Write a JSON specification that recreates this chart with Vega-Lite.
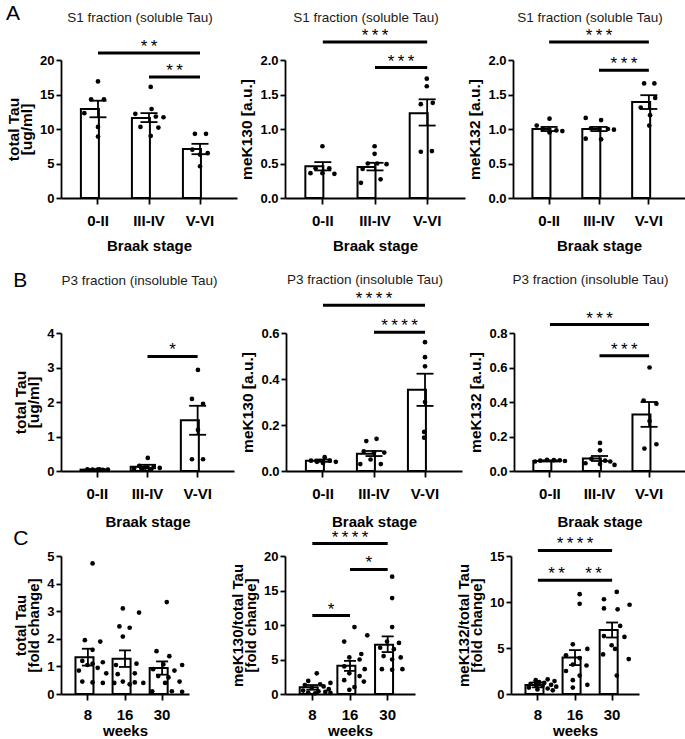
{
  "$schema": "https://vega.github.io/schema/vega-lite/v6.json",
  "background": "white",
  "padding": {"left": 6, "top": 2, "right": 2, "bottom": 0},
  "config": {
    "font": "Liberation Sans",
    "view": {"stroke": null},
    "axis": {"grid": false, "domainColor": "black", "domainWidth": 1.8, "tickColor": "black", "tickWidth": 1.8, "labelColor": "black", "titleColor": "black", "labelFont": "Liberation Sans", "titleFont": "Liberation Sans", "labelFontWeight": "bold", "titleFontWeight": "bold"},
    "axisY": {"labelFontSize": 13, "titleFontSize": 15.5, "tickSize": 5, "labelPadding": 2, "titlePadding": 5, "titleLineHeight": 13.5},
    "axisX": {"labelFontSize": 15, "titleFontSize": 15, "tickSize": 6, "labelAngle": 0}
  },
  "datasets": {
    "bars": [
      {"panel": "A1", "group": "0-II", "mean": 12.9, "lo": 11.7, "hi": 14.1},
      {"panel": "A1", "group": "III-IV", "mean": 11.6, "lo": 11.0, "hi": 12.3},
      {"panel": "A1", "group": "V-VI", "mean": 7.1, "lo": 6.35, "hi": 7.85},
      {"panel": "A2", "group": "0-II", "mean": 0.46, "lo": 0.40, "hi": 0.52},
      {"panel": "A2", "group": "III-IV", "mean": 0.45, "lo": 0.40, "hi": 0.51},
      {"panel": "A2", "group": "V-VI", "mean": 1.23, "lo": 1.05, "hi": 1.43},
      {"panel": "A3", "group": "0-II", "mean": 1.0, "lo": 0.97, "hi": 1.03},
      {"panel": "A3", "group": "III-IV", "mean": 1.0, "lo": 0.97, "hi": 1.03},
      {"panel": "A3", "group": "V-VI", "mean": 1.39, "lo": 1.29, "hi": 1.49},
      {"panel": "B1", "group": "0-II", "mean": 0.04, "lo": 0.03, "hi": 0.05},
      {"panel": "B1", "group": "III-IV", "mean": 0.12, "lo": 0.08, "hi": 0.18},
      {"panel": "B1", "group": "V-VI", "mean": 1.47, "lo": 1.05, "hi": 1.89},
      {"panel": "B2", "group": "0-II", "mean": 0.045, "lo": 0.04, "hi": 0.05},
      {"panel": "B2", "group": "III-IV", "mean": 0.075, "lo": 0.065, "hi": 0.087},
      {"panel": "B2", "group": "V-VI", "mean": 0.353, "lo": 0.283, "hi": 0.423},
      {"panel": "B3", "group": "0-II", "mean": 0.058, "lo": 0.055, "hi": 0.062},
      {"panel": "B3", "group": "III-IV", "mean": 0.072, "lo": 0.058, "hi": 0.087},
      {"panel": "B3", "group": "V-VI", "mean": 0.328, "lo": 0.256, "hi": 0.40},
      {"panel": "C1", "group": "8", "mean": 1.33, "lo": 1.03, "hi": 1.64},
      {"panel": "C1", "group": "16", "mean": 1.28, "lo": 0.98, "hi": 1.58},
      {"panel": "C1", "group": "30", "mean": 0.94, "lo": 0.70, "hi": 1.18},
      {"panel": "C2", "group": "8", "mean": 0.97, "lo": 0.62, "hi": 1.3},
      {"panel": "C2", "group": "16", "mean": 4.08, "lo": 3.35, "hi": 4.8},
      {"panel": "C2", "group": "30", "mean": 7.14, "lo": 6.07, "hi": 8.35},
      {"panel": "C3", "group": "8", "mean": 0.98, "lo": 0.72, "hi": 1.26},
      {"panel": "C3", "group": "16", "mean": 3.98, "lo": 3.14, "hi": 4.77},
      {"panel": "C3", "group": "30", "mean": 6.97, "lo": 6.14, "hi": 7.77}
    ],
    "sig": [
      {"panel": "A1", "from": "0-II", "to": "V-VI", "mid": "III-IV", "level": 21.0, "label": "*\u2009*", "span": 2},
      {"panel": "A1", "from": "III-IV", "to": "V-VI", "mid": null, "level": 17.55, "label": "*\u2009*", "span": 1},
      {"panel": "A2", "from": "0-II", "to": "V-VI", "mid": "III-IV", "level": 2.26, "label": "*\u2009*\u2009*", "span": 2},
      {"panel": "A2", "from": "III-IV", "to": "V-VI", "mid": null, "level": 1.89, "label": "*\u2009*\u2009*", "span": 1},
      {"panel": "A3", "from": "0-II", "to": "V-VI", "mid": "III-IV", "level": 2.26, "label": "*\u2009*\u2009*", "span": 2},
      {"panel": "A3", "from": "III-IV", "to": "V-VI", "mid": null, "level": 1.85, "label": "*\u2009*\u2009*", "span": 1},
      {"panel": "B1", "from": "III-IV", "to": "V-VI", "mid": null, "level": 3.32, "label": "*", "span": 1},
      {"panel": "B2", "from": "0-II", "to": "V-VI", "mid": "III-IV", "level": 0.721, "label": "*\u2009*\u2009*\u2009*", "span": 2},
      {"panel": "B2", "from": "III-IV", "to": "V-VI", "mid": null, "level": 0.603, "label": "*\u2009*\u2009*\u2009*", "span": 1},
      {"panel": "B3", "from": "0-II", "to": "V-VI", "mid": "III-IV", "level": 0.849, "label": "*\u2009*\u2009*", "span": 2},
      {"panel": "B3", "from": "III-IV", "to": "V-VI", "mid": null, "level": 0.668, "label": "*\u2009*\u2009*", "span": 1},
      {"panel": "C2", "from": "8", "to": "30", "mid": "16", "level": 21.8, "label": "*\u2009*\u2009*\u2009*", "span": 2},
      {"panel": "C2", "from": "16", "to": "30", "mid": null, "level": 18.05, "label": "*", "span": 1},
      {"panel": "C2", "from": "8", "to": "16", "mid": null, "level": 11.36, "label": "*", "span": 1},
      {"panel": "C3", "from": "8", "to": "30", "mid": "16", "level": 15.6, "label": "*\u2009*\u2009*\u2009*", "span": 2},
      {"panel": "C3", "from": "8", "to": "16", "mid": null, "level": 12.36, "label": "*\u2009*", "span": 1},
      {"panel": "C3", "from": "16", "to": "30", "mid": null, "level": 12.36, "label": "*\u2009*", "span": 1}
    ],
    "dots": [
      {"panel": "A1", "group": "0-II", "value": 16.9, "jitter": 0},
      {"panel": "A1", "group": "0-II", "value": 14.3, "jitter": -0.4},
      {"panel": "A1", "group": "0-II", "value": 14.3, "jitter": 0.35},
      {"panel": "A1", "group": "0-II", "value": 12.3, "jitter": -0.8},
      {"panel": "A1", "group": "0-II", "value": 10.3, "jitter": 0},
      {"panel": "A1", "group": "0-II", "value": 8.9, "jitter": 0},
      {"panel": "A1", "group": "III-IV", "value": 16.1, "jitter": 0.1},
      {"panel": "A1", "group": "III-IV", "value": 12.9, "jitter": 0.15},
      {"panel": "A1", "group": "III-IV", "value": 12.2, "jitter": -0.8},
      {"panel": "A1", "group": "III-IV", "value": 11.8, "jitter": 0.4},
      {"panel": "A1", "group": "III-IV", "value": 11.7, "jitter": 0.85},
      {"panel": "A1", "group": "III-IV", "value": 10.3, "jitter": -0.5},
      {"panel": "A1", "group": "III-IV", "value": 10.2, "jitter": 0.55},
      {"panel": "A1", "group": "III-IV", "value": 9.0, "jitter": 0.1},
      {"panel": "A1", "group": "V-VI", "value": 9.3, "jitter": -0.3},
      {"panel": "A1", "group": "V-VI", "value": 9.3, "jitter": 0.35},
      {"panel": "A1", "group": "V-VI", "value": 7.0, "jitter": -0.45},
      {"panel": "A1", "group": "V-VI", "value": 6.5, "jitter": 0.45},
      {"panel": "A1", "group": "V-VI", "value": 6.3, "jitter": 0},
      {"panel": "A1", "group": "V-VI", "value": 4.6, "jitter": 0},
      {"panel": "A2", "group": "0-II", "value": 0.75, "jitter": 0},
      {"panel": "A2", "group": "0-II", "value": 0.43, "jitter": -0.4},
      {"panel": "A2", "group": "0-II", "value": 0.43, "jitter": 0.4},
      {"panel": "A2", "group": "0-II", "value": 0.36, "jitter": -0.7},
      {"panel": "A2", "group": "0-II", "value": 0.36, "jitter": 0},
      {"panel": "A2", "group": "0-II", "value": 0.35, "jitter": 0.7},
      {"panel": "A2", "group": "III-IV", "value": 0.75, "jitter": 0},
      {"panel": "A2", "group": "III-IV", "value": 0.64, "jitter": 0},
      {"panel": "A2", "group": "III-IV", "value": 0.50, "jitter": -0.4},
      {"panel": "A2", "group": "III-IV", "value": 0.50, "jitter": 0.15},
      {"panel": "A2", "group": "III-IV", "value": 0.49, "jitter": 0.7},
      {"panel": "A2", "group": "III-IV", "value": 0.42, "jitter": -0.7},
      {"panel": "A2", "group": "III-IV", "value": 0.27, "jitter": 0.35},
      {"panel": "A2", "group": "III-IV", "value": 0.22, "jitter": -0.8},
      {"panel": "A2", "group": "V-VI", "value": 1.73, "jitter": 0},
      {"panel": "A2", "group": "V-VI", "value": 1.62, "jitter": 0},
      {"panel": "A2", "group": "V-VI", "value": 1.36, "jitter": -0.35},
      {"panel": "A2", "group": "V-VI", "value": 1.38, "jitter": 0.35},
      {"panel": "A2", "group": "V-VI", "value": 0.67, "jitter": -0.35},
      {"panel": "A2", "group": "V-VI", "value": 0.68, "jitter": 0.3},
      {"panel": "A3", "group": "0-II", "value": 1.15, "jitter": 0},
      {"panel": "A3", "group": "0-II", "value": 1.05, "jitter": -0.75},
      {"panel": "A3", "group": "0-II", "value": 1.0, "jitter": -0.4},
      {"panel": "A3", "group": "0-II", "value": 0.98, "jitter": 0.4},
      {"panel": "A3", "group": "0-II", "value": 0.97, "jitter": 0.75},
      {"panel": "A3", "group": "0-II", "value": 0.95, "jitter": 0},
      {"panel": "A3", "group": "III-IV", "value": 1.16, "jitter": -0.8},
      {"panel": "A3", "group": "III-IV", "value": 1.13, "jitter": 0.1},
      {"panel": "A3", "group": "III-IV", "value": 1.01, "jitter": -0.5},
      {"panel": "A3", "group": "III-IV", "value": 1.0, "jitter": 0},
      {"panel": "A3", "group": "III-IV", "value": 1.0, "jitter": 0.5},
      {"panel": "A3", "group": "III-IV", "value": 0.99, "jitter": 0.85},
      {"panel": "A3", "group": "III-IV", "value": 0.86, "jitter": -0.8},
      {"panel": "A3", "group": "III-IV", "value": 0.85, "jitter": 0.1},
      {"panel": "A3", "group": "V-VI", "value": 1.66, "jitter": -0.3},
      {"panel": "A3", "group": "V-VI", "value": 1.66, "jitter": 0.3},
      {"panel": "A3", "group": "V-VI", "value": 1.45, "jitter": 0.35},
      {"panel": "A3", "group": "V-VI", "value": 1.31, "jitter": -0.5},
      {"panel": "A3", "group": "V-VI", "value": 1.2, "jitter": 0.05},
      {"panel": "A3", "group": "V-VI", "value": 1.05, "jitter": 0},
      {"panel": "B1", "group": "0-II", "value": 0.05, "jitter": -0.6},
      {"panel": "B1", "group": "0-II", "value": 0.04, "jitter": -0.3},
      {"panel": "B1", "group": "0-II", "value": 0.04, "jitter": 0},
      {"panel": "B1", "group": "0-II", "value": 0.03, "jitter": 0.3},
      {"panel": "B1", "group": "0-II", "value": 0.04, "jitter": 0.6},
      {"panel": "B1", "group": "0-II", "value": 0.05, "jitter": 0.1},
      {"panel": "B1", "group": "III-IV", "value": 0.38, "jitter": 0},
      {"panel": "B1", "group": "III-IV", "value": 0.15, "jitter": -0.5},
      {"panel": "B1", "group": "III-IV", "value": 0.13, "jitter": 0.35},
      {"panel": "B1", "group": "III-IV", "value": 0.10, "jitter": -0.15},
      {"panel": "B1", "group": "III-IV", "value": 0.09, "jitter": 0.7},
      {"panel": "B1", "group": "III-IV", "value": 0.07, "jitter": -0.8},
      {"panel": "B1", "group": "III-IV", "value": 0.05, "jitter": 0.2},
      {"panel": "B1", "group": "III-IV", "value": 0.04, "jitter": -0.35},
      {"panel": "B1", "group": "V-VI", "value": 2.93, "jitter": 0},
      {"panel": "B1", "group": "V-VI", "value": 2.09, "jitter": -0.35},
      {"panel": "B1", "group": "V-VI", "value": 1.95, "jitter": 0.3},
      {"panel": "B1", "group": "V-VI", "value": 1.19, "jitter": 0},
      {"panel": "B1", "group": "V-VI", "value": 0.34, "jitter": -0.35},
      {"panel": "B1", "group": "V-VI", "value": 0.34, "jitter": 0.3},
      {"panel": "B2", "group": "0-II", "value": 0.06, "jitter": 0.1},
      {"panel": "B2", "group": "0-II", "value": 0.045, "jitter": -0.7},
      {"panel": "B2", "group": "0-II", "value": 0.04, "jitter": -0.35},
      {"panel": "B2", "group": "0-II", "value": 0.045, "jitter": 0.4},
      {"panel": "B2", "group": "0-II", "value": 0.04, "jitter": 0.75},
      {"panel": "B2", "group": "0-II", "value": 0.035, "jitter": 0},
      {"panel": "B2", "group": "III-IV", "value": 0.14, "jitter": 0.15},
      {"panel": "B2", "group": "III-IV", "value": 0.13, "jitter": -0.45},
      {"panel": "B2", "group": "III-IV", "value": 0.085, "jitter": -0.6},
      {"panel": "B2", "group": "III-IV", "value": 0.08, "jitter": 0},
      {"panel": "B2", "group": "III-IV", "value": 0.08, "jitter": 0.6},
      {"panel": "B2", "group": "III-IV", "value": 0.05, "jitter": -0.2},
      {"panel": "B2", "group": "III-IV", "value": 0.03, "jitter": -0.8},
      {"panel": "B2", "group": "III-IV", "value": 0.03, "jitter": 0.4},
      {"panel": "B2", "group": "V-VI", "value": 0.56, "jitter": 0},
      {"panel": "B2", "group": "V-VI", "value": 0.495, "jitter": 0},
      {"panel": "B2", "group": "V-VI", "value": 0.455, "jitter": 0},
      {"panel": "B2", "group": "V-VI", "value": 0.30, "jitter": 0},
      {"panel": "B2", "group": "V-VI", "value": 0.17, "jitter": -0.05},
      {"panel": "B2", "group": "V-VI", "value": 0.145, "jitter": -0.05},
      {"panel": "B3", "group": "0-II", "value": 0.065, "jitter": -0.2},
      {"panel": "B3", "group": "0-II", "value": 0.063, "jitter": 0.2},
      {"panel": "B3", "group": "0-II", "value": 0.062, "jitter": 0.55},
      {"panel": "B3", "group": "0-II", "value": 0.06, "jitter": -0.6},
      {"panel": "B3", "group": "0-II", "value": 0.058, "jitter": 0.85},
      {"panel": "B3", "group": "0-II", "value": 0.055, "jitter": -0.9},
      {"panel": "B3", "group": "III-IV", "value": 0.163, "jitter": 0},
      {"panel": "B3", "group": "III-IV", "value": 0.12, "jitter": 0},
      {"panel": "B3", "group": "III-IV", "value": 0.07, "jitter": -0.5},
      {"panel": "B3", "group": "III-IV", "value": 0.06, "jitter": 0.3},
      {"panel": "B3", "group": "III-IV", "value": 0.055, "jitter": 0.6},
      {"panel": "B3", "group": "III-IV", "value": 0.045, "jitter": -0.85},
      {"panel": "B3", "group": "III-IV", "value": 0.04, "jitter": 0},
      {"panel": "B3", "group": "III-IV", "value": 0.035, "jitter": 0.85},
      {"panel": "B3", "group": "V-VI", "value": 0.6, "jitter": 0},
      {"panel": "B3", "group": "V-VI", "value": 0.408, "jitter": -0.35},
      {"panel": "B3", "group": "V-VI", "value": 0.39, "jitter": 0.4},
      {"panel": "B3", "group": "V-VI", "value": 0.29, "jitter": 0},
      {"panel": "B3", "group": "V-VI", "value": 0.13, "jitter": -0.3},
      {"panel": "B3", "group": "V-VI", "value": 0.155, "jitter": 0.4},
      {"panel": "C1", "group": "8", "value": 4.73, "jitter": 0},
      {"panel": "C1", "group": "8", "value": 1.95, "jitter": -0.45},
      {"panel": "C1", "group": "8", "value": 1.9, "jitter": 0.45},
      {"panel": "C1", "group": "8", "value": 1.6, "jitter": 0},
      {"panel": "C1", "group": "8", "value": 1.2, "jitter": -0.6},
      {"panel": "C1", "group": "8", "value": 1.15, "jitter": 0.6},
      {"panel": "C1", "group": "8", "value": 1.1, "jitter": 0},
      {"panel": "C1", "group": "8", "value": 1.05, "jitter": -0.3},
      {"panel": "C1", "group": "8", "value": 0.95, "jitter": 0.3},
      {"panel": "C1", "group": "8", "value": 0.85, "jitter": -0.8},
      {"panel": "C1", "group": "8", "value": 0.75, "jitter": 0.8},
      {"panel": "C1", "group": "8", "value": 0.45, "jitter": -0.6},
      {"panel": "C1", "group": "8", "value": 0.42, "jitter": 0},
      {"panel": "C1", "group": "8", "value": 0.4, "jitter": 0.6},
      {"panel": "C1", "group": "16", "value": 3.1, "jitter": -0.4},
      {"panel": "C1", "group": "16", "value": 2.95, "jitter": 0.55},
      {"panel": "C1", "group": "16", "value": 2.45, "jitter": -0.6},
      {"panel": "C1", "group": "16", "value": 2.4, "jitter": 0},
      {"panel": "C1", "group": "16", "value": 2.08, "jitter": -0.4},
      {"panel": "C1", "group": "16", "value": 1.1, "jitter": 0.4},
      {"panel": "C1", "group": "16", "value": 1.05, "jitter": -0.8},
      {"panel": "C1", "group": "16", "value": 0.75, "jitter": 0.3},
      {"panel": "C1", "group": "16", "value": 0.72, "jitter": -0.7},
      {"panel": "C1", "group": "16", "value": 0.45, "jitter": -0.4},
      {"panel": "C1", "group": "16", "value": 0.42, "jitter": 0.3},
      {"panel": "C1", "group": "16", "value": 0.4, "jitter": 0.8},
      {"panel": "C1", "group": "16", "value": 0.4, "jitter": -0.9},
      {"panel": "C1", "group": "16", "value": 0.35, "jitter": 0},
      {"panel": "C1", "group": "30", "value": 3.33, "jitter": 0},
      {"panel": "C1", "group": "30", "value": 1.55, "jitter": -0.6},
      {"panel": "C1", "group": "30", "value": 1.37, "jitter": 0.15},
      {"panel": "C1", "group": "30", "value": 1.07, "jitter": -0.2},
      {"panel": "C1", "group": "30", "value": 1.05, "jitter": 0.9},
      {"panel": "C1", "group": "30", "value": 0.9, "jitter": -0.8},
      {"panel": "C1", "group": "30", "value": 0.85, "jitter": 0.45},
      {"panel": "C1", "group": "30", "value": 0.65, "jitter": -0.5},
      {"panel": "C1", "group": "30", "value": 0.6, "jitter": 0.1},
      {"panel": "C1", "group": "30", "value": 0.45, "jitter": 0.75},
      {"panel": "C1", "group": "30", "value": 0.4, "jitter": -0.1},
      {"panel": "C1", "group": "30", "value": 0.1, "jitter": -0.85},
      {"panel": "C1", "group": "30", "value": 0.1, "jitter": 0.3},
      {"panel": "C1", "group": "30", "value": 0.08, "jitter": 0.9},
      {"panel": "C2", "group": "8", "value": 3.0, "jitter": 0},
      {"panel": "C2", "group": "8", "value": 1.9, "jitter": -0.5},
      {"panel": "C2", "group": "8", "value": 1.6, "jitter": 0.8},
      {"panel": "C2", "group": "8", "value": 1.4, "jitter": 0.2},
      {"panel": "C2", "group": "8", "value": 1.3, "jitter": -0.7},
      {"panel": "C2", "group": "8", "value": 1.1, "jitter": 0.4},
      {"panel": "C2", "group": "8", "value": 0.9, "jitter": -0.3},
      {"panel": "C2", "group": "8", "value": 0.7, "jitter": 0.7},
      {"panel": "C2", "group": "8", "value": 0.5, "jitter": -0.8},
      {"panel": "C2", "group": "8", "value": 0.4, "jitter": 0.1},
      {"panel": "C2", "group": "8", "value": 0.3, "jitter": 0.5},
      {"panel": "C2", "group": "8", "value": 0.2, "jitter": -0.5},
      {"panel": "C2", "group": "8", "value": 0.15, "jitter": 0.8},
      {"panel": "C2", "group": "8", "value": 0.1, "jitter": -0.1},
      {"panel": "C2", "group": "16", "value": 9.7, "jitter": 0},
      {"panel": "C2", "group": "16", "value": 8.5, "jitter": 0.75},
      {"panel": "C2", "group": "16", "value": 7.6, "jitter": -0.6},
      {"panel": "C2", "group": "16", "value": 5.8, "jitter": 0.4},
      {"panel": "C2", "group": "16", "value": 5.3, "jitter": -0.3},
      {"panel": "C2", "group": "16", "value": 5.0, "jitter": 0.3},
      {"panel": "C2", "group": "16", "value": 4.0, "jitter": -0.6},
      {"panel": "C2", "group": "16", "value": 3.6, "jitter": 0.6},
      {"panel": "C2", "group": "16", "value": 3.0, "jitter": -0.3},
      {"panel": "C2", "group": "16", "value": 2.6, "jitter": 0.3},
      {"panel": "C2", "group": "16", "value": 2.0, "jitter": -0.6},
      {"panel": "C2", "group": "16", "value": 1.8, "jitter": 0.55},
      {"panel": "C2", "group": "16", "value": 1.0, "jitter": 0},
      {"panel": "C2", "group": "16", "value": 0.6, "jitter": -0.3},
      {"panel": "C2", "group": "30", "value": 17.0, "jitter": 0},
      {"panel": "C2", "group": "30", "value": 13.9, "jitter": 0},
      {"panel": "C2", "group": "30", "value": 9.7, "jitter": 0},
      {"panel": "C2", "group": "30", "value": 7.6, "jitter": -0.3},
      {"panel": "C2", "group": "30", "value": 7.4, "jitter": 0.4},
      {"panel": "C2", "group": "30", "value": 6.7, "jitter": -0.7},
      {"panel": "C2", "group": "30", "value": 6.5, "jitter": 0.1},
      {"panel": "C2", "group": "30", "value": 5.5, "jitter": -0.5},
      {"panel": "C2", "group": "30", "value": 5.3, "jitter": 0.5},
      {"panel": "C2", "group": "30", "value": 5.0, "jitter": 0},
      {"panel": "C2", "group": "30", "value": 3.6, "jitter": -0.6},
      {"panel": "C2", "group": "30", "value": 3.6, "jitter": 0.6},
      {"panel": "C2", "group": "30", "value": 3.5, "jitter": 0},
      {"panel": "C3", "group": "8", "value": 1.6, "jitter": 0.3},
      {"panel": "C3", "group": "8", "value": 1.5, "jitter": -0.4},
      {"panel": "C3", "group": "8", "value": 1.4, "jitter": 0.7},
      {"panel": "C3", "group": "8", "value": 1.3, "jitter": -0.2},
      {"panel": "C3", "group": "8", "value": 1.2, "jitter": 0.1},
      {"panel": "C3", "group": "8", "value": 1.1, "jitter": -0.7},
      {"panel": "C3", "group": "8", "value": 1.0, "jitter": 0.5},
      {"panel": "C3", "group": "8", "value": 1.0, "jitter": -0.4},
      {"panel": "C3", "group": "8", "value": 0.9, "jitter": 0},
      {"panel": "C3", "group": "8", "value": 0.8, "jitter": 0.8},
      {"panel": "C3", "group": "8", "value": 0.7, "jitter": -0.8},
      {"panel": "C3", "group": "8", "value": 0.6, "jitter": 0.3},
      {"panel": "C3", "group": "8", "value": 0.5, "jitter": -0.3},
      {"panel": "C3", "group": "8", "value": 0.4, "jitter": 0.6},
      {"panel": "C3", "group": "16", "value": 10.85, "jitter": 0},
      {"panel": "C3", "group": "16", "value": 9.8, "jitter": 0},
      {"panel": "C3", "group": "16", "value": 5.4, "jitter": -0.4},
      {"panel": "C3", "group": "16", "value": 4.9, "jitter": 0.45},
      {"panel": "C3", "group": "16", "value": 4.2, "jitter": -0.8},
      {"panel": "C3", "group": "16", "value": 3.9, "jitter": 0},
      {"panel": "C3", "group": "16", "value": 3.2, "jitter": -0.4},
      {"panel": "C3", "group": "16", "value": 3.1, "jitter": 0.4},
      {"panel": "C3", "group": "16", "value": 2.5, "jitter": -0.8},
      {"panel": "C3", "group": "16", "value": 2.0, "jitter": 0},
      {"panel": "C3", "group": "16", "value": 1.5, "jitter": -0.4},
      {"panel": "C3", "group": "16", "value": 1.0, "jitter": 0.45},
      {"panel": "C3", "group": "16", "value": 0.7, "jitter": -0.4},
      {"panel": "C3", "group": "30", "value": 11.1, "jitter": 0},
      {"panel": "C3", "group": "30", "value": 10.3, "jitter": -0.75},
      {"panel": "C3", "group": "30", "value": 9.3, "jitter": -0.75},
      {"panel": "C3", "group": "30", "value": 9.7, "jitter": 0.75},
      {"panel": "C3", "group": "30", "value": 9.2, "jitter": 0.05},
      {"panel": "C3", "group": "30", "value": 7.4, "jitter": 0.2},
      {"panel": "C3", "group": "30", "value": 6.3, "jitter": -0.75},
      {"panel": "C3", "group": "30", "value": 6.2, "jitter": 0.45},
      {"panel": "C3", "group": "30", "value": 5.3, "jitter": -0.3},
      {"panel": "C3", "group": "30", "value": 4.9, "jitter": -0.1},
      {"panel": "C3", "group": "30", "value": 4.3, "jitter": -0.8},
      {"panel": "C3", "group": "30", "value": 3.8, "jitter": 0.7},
      {"panel": "C3", "group": "30", "value": 2.0, "jitter": 0}
    ]
  },
  "spacing": 16,
  "vconcat": [
    {
      "title": {"text": "A", "anchor": "start", "frame": "bounds", "fontSize": 21, "fontWeight": "normal", "font": "Liberation Sans", "color": "black", "offset": -13},
      "hconcat": [
        {"width": 176, "height": 138,
         "title": {"text": "S1 fraction (soluble Tau)", "anchor": "middle", "frame": "group", "dx": -9, "offset": 14, "fontSize": 13.5, "fontWeight": "normal", "font": "Liberation Sans", "color": "#1a1a1a"},
         "encoding": {"x": {"field": "group", "type": "nominal", "title": "Braak stage", "scale": {"domain": ["0-II", "III-IV", "V-VI"], "paddingInner": 0.33, "paddingOuter": 0.39}, "axis": {"bandPosition": 0.5, "labelPadding": 9, "titlePadding": 10}}},
         "layer": [
          {"data": {"name": "bars"}, "transform": [{"filter": "datum.panel === 'A1'"}], "mark": {"type": "bar", "fill": "white", "stroke": "black", "strokeWidth": 2},
           "encoding": {"y": {"field": "mean", "type": "quantitative", "title": ["total Tau", "[ug/ml]"], "scale": {"domain": [0, 20], "nice": false}, "axis": {"values": [0, 5, 10, 15, 20], "format": "d"}}}},
          {"data": {"name": "bars"}, "transform": [{"filter": "datum.panel === 'A1'"}], "mark": {"type": "rule", "strokeWidth": 1.8, "color": "black"},
           "encoding": {"y": {"field": "lo", "type": "quantitative", "title": ["total Tau", "[ug/ml]"], "scale": {"domain": [0, 20], "nice": false}, "axis": {"values": [0, 5, 10, 15, 20], "format": "d"}}, "y2": {"field": "hi"}}},
          {"data": {"name": "bars"}, "transform": [{"filter": "datum.panel === 'A1'"}], "mark": {"type": "tick", "thickness": 1.8, "size": 17, "color": "black", "opacity": 1},
           "encoding": {"y": {"field": "hi", "type": "quantitative", "title": ["total Tau", "[ug/ml]"], "scale": {"domain": [0, 20], "nice": false}, "axis": {"values": [0, 5, 10, 15, 20], "format": "d"}}}},
          {"data": {"name": "bars"}, "transform": [{"filter": "datum.panel === 'A1'"}], "mark": {"type": "tick", "thickness": 1.8, "size": 17, "color": "black", "opacity": 1},
           "encoding": {"y": {"field": "lo", "type": "quantitative", "title": ["total Tau", "[ug/ml]"], "scale": {"domain": [0, 20], "nice": false}, "axis": {"values": [0, 5, 10, 15, 20], "format": "d"}}}},
          {"data": {"name": "dots"}, "transform": [{"filter": "datum.panel === 'A1'"}], "mark": {"type": "circle", "size": 22, "color": "black", "opacity": 1},
           "encoding": {"xOffset": {"field": "jitter", "type": "quantitative", "scale": {"domain": [-1, 1]}}, "y": {"field": "value", "type": "quantitative", "title": ["total Tau", "[ug/ml]"], "scale": {"domain": [0, 20], "nice": false}, "axis": {"values": [0, 5, 10, 15, 20], "format": "d"}}}},
          {"data": {"name": "sig"}, "transform": [{"filter": "datum.panel === 'A1'"}], "mark": {"type": "rule", "strokeWidth": 3, "color": "black"},
           "encoding": {"x": {"field": "from", "type": "nominal", "title": "Braak stage", "bandPosition": 0.5, "scale": {"domain": ["0-II", "III-IV", "V-VI"], "paddingInner": 0.33, "paddingOuter": 0.39}, "axis": {"bandPosition": 0.5, "labelPadding": 9, "titlePadding": 10}}, "x2": {"field": "to", "bandPosition": 0.5}, "y": {"field": "level", "type": "quantitative", "title": ["total Tau", "[ug/ml]"], "scale": {"domain": [0, 20], "nice": false}, "axis": {"values": [0, 5, 10, 15, 20], "format": "d"}}}},
          {"data": {"name": "sig"}, "transform": [{"filter": "datum.panel === 'A1' && datum.span === 2"}], "mark": {"type": "text", "baseline": "alphabetic", "fontSize": 17, "dy": -1, "color": "black"},
           "encoding": {"x": {"field": "mid", "type": "nominal", "title": "Braak stage", "scale": {"domain": ["0-II", "III-IV", "V-VI"], "paddingInner": 0.33, "paddingOuter": 0.39}, "axis": {"bandPosition": 0.5, "labelPadding": 9, "titlePadding": 10}}, "y": {"field": "level", "type": "quantitative", "title": ["total Tau", "[ug/ml]"], "scale": {"domain": [0, 20], "nice": false}, "axis": {"values": [0, 5, 10, 15, 20], "format": "d"}}, "text": {"field": "label"}}},
          {"data": {"name": "sig"}, "transform": [{"filter": "datum.panel === 'A1' && datum.span === 1"}], "mark": {"type": "text", "baseline": "alphabetic", "fontSize": 17, "dy": -1, "color": "black"},
           "encoding": {"x": {"field": "to", "type": "nominal", "title": "Braak stage", "bandPosition": -0.246, "scale": {"domain": ["0-II", "III-IV", "V-VI"], "paddingInner": 0.33, "paddingOuter": 0.39}, "axis": {"bandPosition": 0.5, "labelPadding": 9, "titlePadding": 10}}, "y": {"field": "level", "type": "quantitative", "title": ["total Tau", "[ug/ml]"], "scale": {"domain": [0, 20], "nice": false}, "axis": {"values": [0, 5, 10, 15, 20], "format": "d"}}, "text": {"field": "label"}}}
         ]},
        {"width": 180, "height": 138,
         "title": {"text": "S1 fraction (soluble Tau)", "anchor": "middle", "frame": "group", "dx": -9, "offset": 3, "fontSize": 13.5, "fontWeight": "normal", "font": "Liberation Sans", "color": "#1a1a1a"},
         "encoding": {"x": {"field": "group", "type": "nominal", "title": "Braak stage", "scale": {"domain": ["0-II", "III-IV", "V-VI"], "paddingInner": 0.33, "paddingOuter": 0.39}, "axis": {"bandPosition": 0.5, "labelPadding": 9, "titlePadding": 10}}},
         "layer": [
          {"data": {"name": "bars"}, "transform": [{"filter": "datum.panel === 'A2'"}], "mark": {"type": "bar", "fill": "white", "stroke": "black", "strokeWidth": 2},
           "encoding": {"y": {"field": "mean", "type": "quantitative", "title": "meK130 [a.u.]", "scale": {"domain": [0, 2], "nice": false}, "axis": {"values": [0, 0.5, 1, 1.5, 2], "format": ".1f"}}}},
          {"data": {"name": "bars"}, "transform": [{"filter": "datum.panel === 'A2'"}], "mark": {"type": "rule", "strokeWidth": 1.8, "color": "black"},
           "encoding": {"y": {"field": "lo", "type": "quantitative", "title": "meK130 [a.u.]", "scale": {"domain": [0, 2], "nice": false}, "axis": {"values": [0, 0.5, 1, 1.5, 2], "format": ".1f"}}, "y2": {"field": "hi"}}},
          {"data": {"name": "bars"}, "transform": [{"filter": "datum.panel === 'A2'"}], "mark": {"type": "tick", "thickness": 1.8, "size": 17, "color": "black", "opacity": 1},
           "encoding": {"y": {"field": "hi", "type": "quantitative", "title": "meK130 [a.u.]", "scale": {"domain": [0, 2], "nice": false}, "axis": {"values": [0, 0.5, 1, 1.5, 2], "format": ".1f"}}}},
          {"data": {"name": "bars"}, "transform": [{"filter": "datum.panel === 'A2'"}], "mark": {"type": "tick", "thickness": 1.8, "size": 17, "color": "black", "opacity": 1},
           "encoding": {"y": {"field": "lo", "type": "quantitative", "title": "meK130 [a.u.]", "scale": {"domain": [0, 2], "nice": false}, "axis": {"values": [0, 0.5, 1, 1.5, 2], "format": ".1f"}}}},
          {"data": {"name": "dots"}, "transform": [{"filter": "datum.panel === 'A2'"}], "mark": {"type": "circle", "size": 22, "color": "black", "opacity": 1},
           "encoding": {"xOffset": {"field": "jitter", "type": "quantitative", "scale": {"domain": [-1, 1]}}, "y": {"field": "value", "type": "quantitative", "title": "meK130 [a.u.]", "scale": {"domain": [0, 2], "nice": false}, "axis": {"values": [0, 0.5, 1, 1.5, 2], "format": ".1f"}}}},
          {"data": {"name": "sig"}, "transform": [{"filter": "datum.panel === 'A2'"}], "mark": {"type": "rule", "strokeWidth": 3, "color": "black"},
           "encoding": {"x": {"field": "from", "type": "nominal", "title": "Braak stage", "bandPosition": 0.5, "scale": {"domain": ["0-II", "III-IV", "V-VI"], "paddingInner": 0.33, "paddingOuter": 0.39}, "axis": {"bandPosition": 0.5, "labelPadding": 9, "titlePadding": 10}}, "x2": {"field": "to", "bandPosition": 0.5}, "y": {"field": "level", "type": "quantitative", "title": "meK130 [a.u.]", "scale": {"domain": [0, 2], "nice": false}, "axis": {"values": [0, 0.5, 1, 1.5, 2], "format": ".1f"}}}},
          {"data": {"name": "sig"}, "transform": [{"filter": "datum.panel === 'A2' && datum.span === 2"}], "mark": {"type": "text", "baseline": "alphabetic", "fontSize": 17, "dy": -1, "color": "black"},
           "encoding": {"x": {"field": "mid", "type": "nominal", "title": "Braak stage", "scale": {"domain": ["0-II", "III-IV", "V-VI"], "paddingInner": 0.33, "paddingOuter": 0.39}, "axis": {"bandPosition": 0.5, "labelPadding": 9, "titlePadding": 10}}, "y": {"field": "level", "type": "quantitative", "title": "meK130 [a.u.]", "scale": {"domain": [0, 2], "nice": false}, "axis": {"values": [0, 0.5, 1, 1.5, 2], "format": ".1f"}}, "text": {"field": "label"}}},
          {"data": {"name": "sig"}, "transform": [{"filter": "datum.panel === 'A2' && datum.span === 1"}], "mark": {"type": "text", "baseline": "alphabetic", "fontSize": 17, "dy": -1, "color": "black"},
           "encoding": {"x": {"field": "to", "type": "nominal", "title": "Braak stage", "bandPosition": -0.246, "scale": {"domain": ["0-II", "III-IV", "V-VI"], "paddingInner": 0.33, "paddingOuter": 0.39}, "axis": {"bandPosition": 0.5, "labelPadding": 9, "titlePadding": 10}}, "y": {"field": "level", "type": "quantitative", "title": "meK130 [a.u.]", "scale": {"domain": [0, 2], "nice": false}, "axis": {"values": [0, 0.5, 1, 1.5, 2], "format": ".1f"}}, "text": {"field": "label"}}}
         ]},
        {"width": 172, "height": 138,
         "title": {"text": "S1 fraction (soluble Tau)", "anchor": "middle", "frame": "group", "dx": -9, "offset": 3, "fontSize": 13.5, "fontWeight": "normal", "font": "Liberation Sans", "color": "#1a1a1a"},
         "encoding": {"x": {"field": "group", "type": "nominal", "title": "Braak stage", "scale": {"domain": ["0-II", "III-IV", "V-VI"], "paddingInner": 0.33, "paddingOuter": 0.39}, "axis": {"bandPosition": 0.5, "labelPadding": 9, "titlePadding": 10}}},
         "layer": [
          {"data": {"name": "bars"}, "transform": [{"filter": "datum.panel === 'A3'"}], "mark": {"type": "bar", "fill": "white", "stroke": "black", "strokeWidth": 2},
           "encoding": {"y": {"field": "mean", "type": "quantitative", "title": "meK132 [a.u.]", "scale": {"domain": [0, 2], "nice": false}, "axis": {"values": [0, 0.5, 1, 1.5, 2], "format": ".1f"}}}},
          {"data": {"name": "bars"}, "transform": [{"filter": "datum.panel === 'A3'"}], "mark": {"type": "rule", "strokeWidth": 1.8, "color": "black"},
           "encoding": {"y": {"field": "lo", "type": "quantitative", "title": "meK132 [a.u.]", "scale": {"domain": [0, 2], "nice": false}, "axis": {"values": [0, 0.5, 1, 1.5, 2], "format": ".1f"}}, "y2": {"field": "hi"}}},
          {"data": {"name": "bars"}, "transform": [{"filter": "datum.panel === 'A3'"}], "mark": {"type": "tick", "thickness": 1.8, "size": 17, "color": "black", "opacity": 1},
           "encoding": {"y": {"field": "hi", "type": "quantitative", "title": "meK132 [a.u.]", "scale": {"domain": [0, 2], "nice": false}, "axis": {"values": [0, 0.5, 1, 1.5, 2], "format": ".1f"}}}},
          {"data": {"name": "bars"}, "transform": [{"filter": "datum.panel === 'A3'"}], "mark": {"type": "tick", "thickness": 1.8, "size": 17, "color": "black", "opacity": 1},
           "encoding": {"y": {"field": "lo", "type": "quantitative", "title": "meK132 [a.u.]", "scale": {"domain": [0, 2], "nice": false}, "axis": {"values": [0, 0.5, 1, 1.5, 2], "format": ".1f"}}}},
          {"data": {"name": "dots"}, "transform": [{"filter": "datum.panel === 'A3'"}], "mark": {"type": "circle", "size": 22, "color": "black", "opacity": 1},
           "encoding": {"xOffset": {"field": "jitter", "type": "quantitative", "scale": {"domain": [-1, 1]}}, "y": {"field": "value", "type": "quantitative", "title": "meK132 [a.u.]", "scale": {"domain": [0, 2], "nice": false}, "axis": {"values": [0, 0.5, 1, 1.5, 2], "format": ".1f"}}}},
          {"data": {"name": "sig"}, "transform": [{"filter": "datum.panel === 'A3'"}], "mark": {"type": "rule", "strokeWidth": 3, "color": "black"},
           "encoding": {"x": {"field": "from", "type": "nominal", "title": "Braak stage", "bandPosition": 0.5, "scale": {"domain": ["0-II", "III-IV", "V-VI"], "paddingInner": 0.33, "paddingOuter": 0.39}, "axis": {"bandPosition": 0.5, "labelPadding": 9, "titlePadding": 10}}, "x2": {"field": "to", "bandPosition": 0.5}, "y": {"field": "level", "type": "quantitative", "title": "meK132 [a.u.]", "scale": {"domain": [0, 2], "nice": false}, "axis": {"values": [0, 0.5, 1, 1.5, 2], "format": ".1f"}}}},
          {"data": {"name": "sig"}, "transform": [{"filter": "datum.panel === 'A3' && datum.span === 2"}], "mark": {"type": "text", "baseline": "alphabetic", "fontSize": 17, "dy": -1, "color": "black"},
           "encoding": {"x": {"field": "mid", "type": "nominal", "title": "Braak stage", "scale": {"domain": ["0-II", "III-IV", "V-VI"], "paddingInner": 0.33, "paddingOuter": 0.39}, "axis": {"bandPosition": 0.5, "labelPadding": 9, "titlePadding": 10}}, "y": {"field": "level", "type": "quantitative", "title": "meK132 [a.u.]", "scale": {"domain": [0, 2], "nice": false}, "axis": {"values": [0, 0.5, 1, 1.5, 2], "format": ".1f"}}, "text": {"field": "label"}}},
          {"data": {"name": "sig"}, "transform": [{"filter": "datum.panel === 'A3' && datum.span === 1"}], "mark": {"type": "text", "baseline": "alphabetic", "fontSize": 17, "dy": -1, "color": "black"},
           "encoding": {"x": {"field": "to", "type": "nominal", "title": "Braak stage", "bandPosition": -0.246, "scale": {"domain": ["0-II", "III-IV", "V-VI"], "paddingInner": 0.33, "paddingOuter": 0.39}, "axis": {"bandPosition": 0.5, "labelPadding": 9, "titlePadding": 10}}, "y": {"field": "level", "type": "quantitative", "title": "meK132 [a.u.]", "scale": {"domain": [0, 2], "nice": false}, "axis": {"values": [0, 0.5, 1, 1.5, 2], "format": ".1f"}}, "text": {"field": "label"}}}
         ]}
      ],
      "spacing": 48,
      "bounds": "flush"
    },
    {
      "spacing": -2,
      "vconcat": [
        {
          "title": {"text": "B", "anchor": "start", "frame": "bounds", "fontSize": 21, "fontWeight": "normal", "font": "Liberation Sans", "color": "black", "offset": -18},
          "hconcat": [
            {"width": 173, "height": 138,
             "title": {"text": "P3 fraction (insoluble Tau)", "anchor": "middle", "frame": "group", "dx": -8, "offset": 40, "fontSize": 13.5, "fontWeight": "normal", "font": "Liberation Sans", "color": "#1a1a1a"},
             "encoding": {"x": {"field": "group", "type": "nominal", "title": "Braak stage", "scale": {"domain": ["0-II", "III-IV", "V-VI"], "paddingInner": 0.33, "paddingOuter": 0.39}, "axis": {"bandPosition": 0.5, "labelPadding": 9, "titlePadding": 13}}},
             "layer": [
              {"data": {"name": "bars"}, "transform": [{"filter": "datum.panel === 'B1'"}], "mark": {"type": "bar", "fill": "white", "stroke": "black", "strokeWidth": 2},
               "encoding": {"y": {"field": "mean", "type": "quantitative", "title": ["total Tau", "[ug/ml]"], "scale": {"domain": [0, 4], "nice": false}, "axis": {"values": [0, 1, 2, 3, 4], "format": "d"}}}},
              {"data": {"name": "bars"}, "transform": [{"filter": "datum.panel === 'B1'"}], "mark": {"type": "rule", "strokeWidth": 1.8, "color": "black"},
               "encoding": {"y": {"field": "lo", "type": "quantitative", "title": ["total Tau", "[ug/ml]"], "scale": {"domain": [0, 4], "nice": false}, "axis": {"values": [0, 1, 2, 3, 4], "format": "d"}}, "y2": {"field": "hi"}}},
              {"data": {"name": "bars"}, "transform": [{"filter": "datum.panel === 'B1'"}], "mark": {"type": "tick", "thickness": 1.8, "size": 17, "color": "black", "opacity": 1},
               "encoding": {"y": {"field": "hi", "type": "quantitative", "title": ["total Tau", "[ug/ml]"], "scale": {"domain": [0, 4], "nice": false}, "axis": {"values": [0, 1, 2, 3, 4], "format": "d"}}}},
              {"data": {"name": "bars"}, "transform": [{"filter": "datum.panel === 'B1'"}], "mark": {"type": "tick", "thickness": 1.8, "size": 17, "color": "black", "opacity": 1},
               "encoding": {"y": {"field": "lo", "type": "quantitative", "title": ["total Tau", "[ug/ml]"], "scale": {"domain": [0, 4], "nice": false}, "axis": {"values": [0, 1, 2, 3, 4], "format": "d"}}}},
              {"data": {"name": "dots"}, "transform": [{"filter": "datum.panel === 'B1'"}], "mark": {"type": "circle", "size": 22, "color": "black", "opacity": 1},
               "encoding": {"xOffset": {"field": "jitter", "type": "quantitative", "scale": {"domain": [-1, 1]}}, "y": {"field": "value", "type": "quantitative", "title": ["total Tau", "[ug/ml]"], "scale": {"domain": [0, 4], "nice": false}, "axis": {"values": [0, 1, 2, 3, 4], "format": "d"}}}},
              {"data": {"name": "sig"}, "transform": [{"filter": "datum.panel === 'B1'"}], "mark": {"type": "rule", "strokeWidth": 3, "color": "black"},
               "encoding": {"x": {"field": "from", "type": "nominal", "title": "Braak stage", "bandPosition": 0.5, "scale": {"domain": ["0-II", "III-IV", "V-VI"], "paddingInner": 0.33, "paddingOuter": 0.39}, "axis": {"bandPosition": 0.5, "labelPadding": 9, "titlePadding": 13}}, "x2": {"field": "to", "bandPosition": 0.5}, "y": {"field": "level", "type": "quantitative", "title": ["total Tau", "[ug/ml]"], "scale": {"domain": [0, 4], "nice": false}, "axis": {"values": [0, 1, 2, 3, 4], "format": "d"}}}},
              {"data": {"name": "sig"}, "transform": [{"filter": "datum.panel === 'B1' && datum.span === 1"}], "mark": {"type": "text", "baseline": "alphabetic", "fontSize": 17, "dy": -1, "color": "black"},
               "encoding": {"x": {"field": "to", "type": "nominal", "title": "Braak stage", "bandPosition": -0.246, "scale": {"domain": ["0-II", "III-IV", "V-VI"], "paddingInner": 0.33, "paddingOuter": 0.39}, "axis": {"bandPosition": 0.5, "labelPadding": 9, "titlePadding": 13}}, "y": {"field": "level", "type": "quantitative", "title": ["total Tau", "[ug/ml]"], "scale": {"domain": [0, 4], "nice": false}, "axis": {"values": [0, 1, 2, 3, 4], "format": "d"}}, "text": {"field": "label"}}}
             ]},
            {"width": 176, "height": 138,
             "title": {"text": "P3 fraction (insoluble Tau)", "anchor": "middle", "frame": "group", "dx": -9, "offset": 4, "fontSize": 13.5, "fontWeight": "normal", "font": "Liberation Sans", "color": "#1a1a1a"},
             "encoding": {"x": {"field": "group", "type": "nominal", "title": "Braak stage", "scale": {"domain": ["0-II", "III-IV", "V-VI"], "paddingInner": 0.33, "paddingOuter": 0.39}, "axis": {"bandPosition": 0.5, "labelPadding": 9, "titlePadding": 13}}},
             "layer": [
              {"data": {"name": "bars"}, "transform": [{"filter": "datum.panel === 'B2'"}], "mark": {"type": "bar", "fill": "white", "stroke": "black", "strokeWidth": 2},
               "encoding": {"y": {"field": "mean", "type": "quantitative", "title": "meK130 [a.u.]", "scale": {"domain": [0, 0.6], "nice": false}, "axis": {"values": [0, 0.2, 0.4, 0.6], "format": ".1f"}}}},
              {"data": {"name": "bars"}, "transform": [{"filter": "datum.panel === 'B2'"}], "mark": {"type": "rule", "strokeWidth": 1.8, "color": "black"},
               "encoding": {"y": {"field": "lo", "type": "quantitative", "title": "meK130 [a.u.]", "scale": {"domain": [0, 0.6], "nice": false}, "axis": {"values": [0, 0.2, 0.4, 0.6], "format": ".1f"}}, "y2": {"field": "hi"}}},
              {"data": {"name": "bars"}, "transform": [{"filter": "datum.panel === 'B2'"}], "mark": {"type": "tick", "thickness": 1.8, "size": 17, "color": "black", "opacity": 1},
               "encoding": {"y": {"field": "hi", "type": "quantitative", "title": "meK130 [a.u.]", "scale": {"domain": [0, 0.6], "nice": false}, "axis": {"values": [0, 0.2, 0.4, 0.6], "format": ".1f"}}}},
              {"data": {"name": "bars"}, "transform": [{"filter": "datum.panel === 'B2'"}], "mark": {"type": "tick", "thickness": 1.8, "size": 17, "color": "black", "opacity": 1},
               "encoding": {"y": {"field": "lo", "type": "quantitative", "title": "meK130 [a.u.]", "scale": {"domain": [0, 0.6], "nice": false}, "axis": {"values": [0, 0.2, 0.4, 0.6], "format": ".1f"}}}},
              {"data": {"name": "dots"}, "transform": [{"filter": "datum.panel === 'B2'"}], "mark": {"type": "circle", "size": 22, "color": "black", "opacity": 1},
               "encoding": {"xOffset": {"field": "jitter", "type": "quantitative", "scale": {"domain": [-1, 1]}}, "y": {"field": "value", "type": "quantitative", "title": "meK130 [a.u.]", "scale": {"domain": [0, 0.6], "nice": false}, "axis": {"values": [0, 0.2, 0.4, 0.6], "format": ".1f"}}}},
              {"data": {"name": "sig"}, "transform": [{"filter": "datum.panel === 'B2'"}], "mark": {"type": "rule", "strokeWidth": 3, "color": "black"},
               "encoding": {"x": {"field": "from", "type": "nominal", "title": "Braak stage", "bandPosition": 0.5, "scale": {"domain": ["0-II", "III-IV", "V-VI"], "paddingInner": 0.33, "paddingOuter": 0.39}, "axis": {"bandPosition": 0.5, "labelPadding": 9, "titlePadding": 13}}, "x2": {"field": "to", "bandPosition": 0.5}, "y": {"field": "level", "type": "quantitative", "title": "meK130 [a.u.]", "scale": {"domain": [0, 0.6], "nice": false}, "axis": {"values": [0, 0.2, 0.4, 0.6], "format": ".1f"}}}},
              {"data": {"name": "sig"}, "transform": [{"filter": "datum.panel === 'B2' && datum.span === 2"}], "mark": {"type": "text", "baseline": "alphabetic", "fontSize": 17, "dy": -1, "color": "black"},
               "encoding": {"x": {"field": "mid", "type": "nominal", "title": "Braak stage", "scale": {"domain": ["0-II", "III-IV", "V-VI"], "paddingInner": 0.33, "paddingOuter": 0.39}, "axis": {"bandPosition": 0.5, "labelPadding": 9, "titlePadding": 13}}, "y": {"field": "level", "type": "quantitative", "title": "meK130 [a.u.]", "scale": {"domain": [0, 0.6], "nice": false}, "axis": {"values": [0, 0.2, 0.4, 0.6], "format": ".1f"}}, "text": {"field": "label"}}},
              {"data": {"name": "sig"}, "transform": [{"filter": "datum.panel === 'B2' && datum.span === 1"}], "mark": {"type": "text", "baseline": "alphabetic", "fontSize": 17, "dy": -1, "color": "black"},
               "encoding": {"x": {"field": "to", "type": "nominal", "title": "Braak stage", "bandPosition": -0.246, "scale": {"domain": ["0-II", "III-IV", "V-VI"], "paddingInner": 0.33, "paddingOuter": 0.39}, "axis": {"bandPosition": 0.5, "labelPadding": 9, "titlePadding": 13}}, "y": {"field": "level", "type": "quantitative", "title": "meK130 [a.u.]", "scale": {"domain": [0, 0.6], "nice": false}, "axis": {"values": [0, 0.2, 0.4, 0.6], "format": ".1f"}}, "text": {"field": "label"}}}
             ]},
            {"width": 171, "height": 138,
             "title": {"text": "P3 fraction (insoluble Tau)", "anchor": "middle", "frame": "group", "dx": -9, "offset": 23, "fontSize": 13.5, "fontWeight": "normal", "font": "Liberation Sans", "color": "#1a1a1a"},
             "encoding": {"x": {"field": "group", "type": "nominal", "title": "Braak stage", "scale": {"domain": ["0-II", "III-IV", "V-VI"], "paddingInner": 0.33, "paddingOuter": 0.39}, "axis": {"bandPosition": 0.5, "labelPadding": 9, "titlePadding": 13}}},
             "layer": [
              {"data": {"name": "bars"}, "transform": [{"filter": "datum.panel === 'B3'"}], "mark": {"type": "bar", "fill": "white", "stroke": "black", "strokeWidth": 2},
               "encoding": {"y": {"field": "mean", "type": "quantitative", "title": "meK132 [a.u.]", "scale": {"domain": [0, 0.8], "nice": false}, "axis": {"values": [0, 0.2, 0.4, 0.6, 0.8], "format": ".1f"}}}},
              {"data": {"name": "bars"}, "transform": [{"filter": "datum.panel === 'B3'"}], "mark": {"type": "rule", "strokeWidth": 1.8, "color": "black"},
               "encoding": {"y": {"field": "lo", "type": "quantitative", "title": "meK132 [a.u.]", "scale": {"domain": [0, 0.8], "nice": false}, "axis": {"values": [0, 0.2, 0.4, 0.6, 0.8], "format": ".1f"}}, "y2": {"field": "hi"}}},
              {"data": {"name": "bars"}, "transform": [{"filter": "datum.panel === 'B3'"}], "mark": {"type": "tick", "thickness": 1.8, "size": 17, "color": "black", "opacity": 1},
               "encoding": {"y": {"field": "hi", "type": "quantitative", "title": "meK132 [a.u.]", "scale": {"domain": [0, 0.8], "nice": false}, "axis": {"values": [0, 0.2, 0.4, 0.6, 0.8], "format": ".1f"}}}},
              {"data": {"name": "bars"}, "transform": [{"filter": "datum.panel === 'B3'"}], "mark": {"type": "tick", "thickness": 1.8, "size": 17, "color": "black", "opacity": 1},
               "encoding": {"y": {"field": "lo", "type": "quantitative", "title": "meK132 [a.u.]", "scale": {"domain": [0, 0.8], "nice": false}, "axis": {"values": [0, 0.2, 0.4, 0.6, 0.8], "format": ".1f"}}}},
              {"data": {"name": "dots"}, "transform": [{"filter": "datum.panel === 'B3'"}], "mark": {"type": "circle", "size": 22, "color": "black", "opacity": 1},
               "encoding": {"xOffset": {"field": "jitter", "type": "quantitative", "scale": {"domain": [-1, 1]}}, "y": {"field": "value", "type": "quantitative", "title": "meK132 [a.u.]", "scale": {"domain": [0, 0.8], "nice": false}, "axis": {"values": [0, 0.2, 0.4, 0.6, 0.8], "format": ".1f"}}}},
              {"data": {"name": "sig"}, "transform": [{"filter": "datum.panel === 'B3'"}], "mark": {"type": "rule", "strokeWidth": 3, "color": "black"},
               "encoding": {"x": {"field": "from", "type": "nominal", "title": "Braak stage", "bandPosition": 0.5, "scale": {"domain": ["0-II", "III-IV", "V-VI"], "paddingInner": 0.33, "paddingOuter": 0.39}, "axis": {"bandPosition": 0.5, "labelPadding": 9, "titlePadding": 13}}, "x2": {"field": "to", "bandPosition": 0.5}, "y": {"field": "level", "type": "quantitative", "title": "meK132 [a.u.]", "scale": {"domain": [0, 0.8], "nice": false}, "axis": {"values": [0, 0.2, 0.4, 0.6, 0.8], "format": ".1f"}}}},
              {"data": {"name": "sig"}, "transform": [{"filter": "datum.panel === 'B3' && datum.span === 2"}], "mark": {"type": "text", "baseline": "alphabetic", "fontSize": 17, "dy": -1, "color": "black"},
               "encoding": {"x": {"field": "mid", "type": "nominal", "title": "Braak stage", "scale": {"domain": ["0-II", "III-IV", "V-VI"], "paddingInner": 0.33, "paddingOuter": 0.39}, "axis": {"bandPosition": 0.5, "labelPadding": 9, "titlePadding": 13}}, "y": {"field": "level", "type": "quantitative", "title": "meK132 [a.u.]", "scale": {"domain": [0, 0.8], "nice": false}, "axis": {"values": [0, 0.2, 0.4, 0.6, 0.8], "format": ".1f"}}, "text": {"field": "label"}}},
              {"data": {"name": "sig"}, "transform": [{"filter": "datum.panel === 'B3' && datum.span === 1"}], "mark": {"type": "text", "baseline": "alphabetic", "fontSize": 17, "dy": -1, "color": "black"},
               "encoding": {"x": {"field": "to", "type": "nominal", "title": "Braak stage", "bandPosition": -0.246, "scale": {"domain": ["0-II", "III-IV", "V-VI"], "paddingInner": 0.33, "paddingOuter": 0.39}, "axis": {"bandPosition": 0.5, "labelPadding": 9, "titlePadding": 13}}, "y": {"field": "level", "type": "quantitative", "title": "meK132 [a.u.]", "scale": {"domain": [0, 0.8], "nice": false}, "axis": {"values": [0, 0.2, 0.4, 0.6, 0.8], "format": ".1f"}}, "text": {"field": "label"}}}
             ]}
          ],
          "spacing": 52,
          "bounds": "flush"
        },
        {
          "title": {"text": "C", "anchor": "start", "frame": "bounds", "fontSize": 21, "fontWeight": "normal", "font": "Liberation Sans", "color": "black", "offset": -20},
          "hconcat": [
            {"width": 128, "height": 138,
             "encoding": {"x": {"field": "group", "type": "nominal", "title": "weeks", "scale": {"domain": ["8", "16", "30"], "paddingInner": 0.33, "paddingOuter": 0.39}, "axis": {"bandPosition": 0.5, "labelPadding": 7, "titlePadding": 1}}},
             "layer": [
              {"data": {"name": "bars"}, "transform": [{"filter": "datum.panel === 'C1'"}], "mark": {"type": "bar", "fill": "white", "stroke": "black", "strokeWidth": 2},
               "encoding": {"y": {"field": "mean", "type": "quantitative", "title": ["total Tau", "[fold change]"], "scale": {"domain": [0, 5], "nice": false}, "axis": {"values": [0, 1, 2, 3, 4, 5], "format": "d", "titleFontSize": 15}}}},
              {"data": {"name": "bars"}, "transform": [{"filter": "datum.panel === 'C1'"}], "mark": {"type": "rule", "strokeWidth": 1.8, "color": "black"},
               "encoding": {"y": {"field": "lo", "type": "quantitative", "title": ["total Tau", "[fold change]"], "scale": {"domain": [0, 5], "nice": false}, "axis": {"values": [0, 1, 2, 3, 4, 5], "format": "d", "titleFontSize": 15}}, "y2": {"field": "hi"}}},
              {"data": {"name": "bars"}, "transform": [{"filter": "datum.panel === 'C1'"}], "mark": {"type": "tick", "thickness": 1.8, "size": 12, "color": "black", "opacity": 1},
               "encoding": {"y": {"field": "hi", "type": "quantitative", "title": ["total Tau", "[fold change]"], "scale": {"domain": [0, 5], "nice": false}, "axis": {"values": [0, 1, 2, 3, 4, 5], "format": "d", "titleFontSize": 15}}}},
              {"data": {"name": "bars"}, "transform": [{"filter": "datum.panel === 'C1'"}], "mark": {"type": "tick", "thickness": 1.8, "size": 12, "color": "black", "opacity": 1},
               "encoding": {"y": {"field": "lo", "type": "quantitative", "title": ["total Tau", "[fold change]"], "scale": {"domain": [0, 5], "nice": false}, "axis": {"values": [0, 1, 2, 3, 4, 5], "format": "d", "titleFontSize": 15}}}},
              {"data": {"name": "dots"}, "transform": [{"filter": "datum.panel === 'C1'"}], "mark": {"type": "circle", "size": 22, "color": "black", "opacity": 1},
               "encoding": {"xOffset": {"field": "jitter", "type": "quantitative", "scale": {"domain": [-1, 1]}}, "y": {"field": "value", "type": "quantitative", "title": ["total Tau", "[fold change]"], "scale": {"domain": [0, 5], "nice": false}, "axis": {"values": [0, 1, 2, 3, 4, 5], "format": "d", "titleFontSize": 15}}}}
             ]},
            {"width": 130, "height": 138,
             "encoding": {"x": {"field": "group", "type": "nominal", "title": "weeks", "scale": {"domain": ["8", "16", "30"], "paddingInner": 0.33, "paddingOuter": 0.39}, "axis": {"bandPosition": 0.5, "labelPadding": 7, "titlePadding": 1}}},
             "layer": [
              {"data": {"name": "bars"}, "transform": [{"filter": "datum.panel === 'C2'"}], "mark": {"type": "bar", "fill": "white", "stroke": "black", "strokeWidth": 2},
               "encoding": {"y": {"field": "mean", "type": "quantitative", "title": ["meK130/total Tau", "[fold change]"], "scale": {"domain": [0, 20], "nice": false}, "axis": {"values": [0, 5, 10, 15, 20], "format": "d", "titleFontSize": 15}}}},
              {"data": {"name": "bars"}, "transform": [{"filter": "datum.panel === 'C2'"}], "mark": {"type": "rule", "strokeWidth": 1.8, "color": "black"},
               "encoding": {"y": {"field": "lo", "type": "quantitative", "title": ["meK130/total Tau", "[fold change]"], "scale": {"domain": [0, 20], "nice": false}, "axis": {"values": [0, 5, 10, 15, 20], "format": "d", "titleFontSize": 15}}, "y2": {"field": "hi"}}},
              {"data": {"name": "bars"}, "transform": [{"filter": "datum.panel === 'C2'"}], "mark": {"type": "tick", "thickness": 1.8, "size": 12, "color": "black", "opacity": 1},
               "encoding": {"y": {"field": "hi", "type": "quantitative", "title": ["meK130/total Tau", "[fold change]"], "scale": {"domain": [0, 20], "nice": false}, "axis": {"values": [0, 5, 10, 15, 20], "format": "d", "titleFontSize": 15}}}},
              {"data": {"name": "bars"}, "transform": [{"filter": "datum.panel === 'C2'"}], "mark": {"type": "tick", "thickness": 1.8, "size": 12, "color": "black", "opacity": 1},
               "encoding": {"y": {"field": "lo", "type": "quantitative", "title": ["meK130/total Tau", "[fold change]"], "scale": {"domain": [0, 20], "nice": false}, "axis": {"values": [0, 5, 10, 15, 20], "format": "d", "titleFontSize": 15}}}},
              {"data": {"name": "dots"}, "transform": [{"filter": "datum.panel === 'C2'"}], "mark": {"type": "circle", "size": 22, "color": "black", "opacity": 1},
               "encoding": {"xOffset": {"field": "jitter", "type": "quantitative", "scale": {"domain": [-1, 1]}}, "y": {"field": "value", "type": "quantitative", "title": ["meK130/total Tau", "[fold change]"], "scale": {"domain": [0, 20], "nice": false}, "axis": {"values": [0, 5, 10, 15, 20], "format": "d", "titleFontSize": 15}}}},
              {"data": {"name": "sig"}, "transform": [{"filter": "datum.panel === 'C2'"}], "mark": {"type": "rule", "strokeWidth": 3, "color": "black"},
               "encoding": {"x": {"field": "from", "type": "nominal", "title": "weeks", "bandPosition": 0.5, "scale": {"domain": ["8", "16", "30"], "paddingInner": 0.33, "paddingOuter": 0.39}, "axis": {"bandPosition": 0.5, "labelPadding": 7, "titlePadding": 1}}, "x2": {"field": "to", "bandPosition": 0.5}, "y": {"field": "level", "type": "quantitative", "title": ["meK130/total Tau", "[fold change]"], "scale": {"domain": [0, 20], "nice": false}, "axis": {"values": [0, 5, 10, 15, 20], "format": "d", "titleFontSize": 15}}}},
              {"data": {"name": "sig"}, "transform": [{"filter": "datum.panel === 'C2' && datum.span === 2"}], "mark": {"type": "text", "baseline": "alphabetic", "fontSize": 17, "dy": -1, "color": "black"},
               "encoding": {"x": {"field": "mid", "type": "nominal", "title": "weeks", "scale": {"domain": ["8", "16", "30"], "paddingInner": 0.33, "paddingOuter": 0.39}, "axis": {"bandPosition": 0.5, "labelPadding": 7, "titlePadding": 1}}, "y": {"field": "level", "type": "quantitative", "title": ["meK130/total Tau", "[fold change]"], "scale": {"domain": [0, 20], "nice": false}, "axis": {"values": [0, 5, 10, 15, 20], "format": "d", "titleFontSize": 15}}, "text": {"field": "label"}}},
              {"data": {"name": "sig"}, "transform": [{"filter": "datum.panel === 'C2' && datum.span === 1"}], "mark": {"type": "text", "baseline": "alphabetic", "fontSize": 17, "dy": -1, "color": "black"},
               "encoding": {"x": {"field": "to", "type": "nominal", "title": "weeks", "bandPosition": -0.246, "scale": {"domain": ["8", "16", "30"], "paddingInner": 0.33, "paddingOuter": 0.39}, "axis": {"bandPosition": 0.5, "labelPadding": 7, "titlePadding": 1}}, "y": {"field": "level", "type": "quantitative", "title": ["meK130/total Tau", "[fold change]"], "scale": {"domain": [0, 20], "nice": false}, "axis": {"values": [0, 5, 10, 15, 20], "format": "d", "titleFontSize": 15}}, "text": {"field": "label"}}}
             ]},
            {"width": 128, "height": 138,
             "encoding": {"x": {"field": "group", "type": "nominal", "title": "weeks", "scale": {"domain": ["8", "16", "30"], "paddingInner": 0.33, "paddingOuter": 0.39}, "axis": {"bandPosition": 0.5, "labelPadding": 7, "titlePadding": 1}}},
             "layer": [
              {"data": {"name": "bars"}, "transform": [{"filter": "datum.panel === 'C3'"}], "mark": {"type": "bar", "fill": "white", "stroke": "black", "strokeWidth": 2},
               "encoding": {"y": {"field": "mean", "type": "quantitative", "title": ["meK132/total Tau", "[fold change]"], "scale": {"domain": [0, 15], "nice": false}, "axis": {"values": [0, 5, 10, 15], "format": "d", "titleFontSize": 15}}}},
              {"data": {"name": "bars"}, "transform": [{"filter": "datum.panel === 'C3'"}], "mark": {"type": "rule", "strokeWidth": 1.8, "color": "black"},
               "encoding": {"y": {"field": "lo", "type": "quantitative", "title": ["meK132/total Tau", "[fold change]"], "scale": {"domain": [0, 15], "nice": false}, "axis": {"values": [0, 5, 10, 15], "format": "d", "titleFontSize": 15}}, "y2": {"field": "hi"}}},
              {"data": {"name": "bars"}, "transform": [{"filter": "datum.panel === 'C3'"}], "mark": {"type": "tick", "thickness": 1.8, "size": 12, "color": "black", "opacity": 1},
               "encoding": {"y": {"field": "hi", "type": "quantitative", "title": ["meK132/total Tau", "[fold change]"], "scale": {"domain": [0, 15], "nice": false}, "axis": {"values": [0, 5, 10, 15], "format": "d", "titleFontSize": 15}}}},
              {"data": {"name": "bars"}, "transform": [{"filter": "datum.panel === 'C3'"}], "mark": {"type": "tick", "thickness": 1.8, "size": 12, "color": "black", "opacity": 1},
               "encoding": {"y": {"field": "lo", "type": "quantitative", "title": ["meK132/total Tau", "[fold change]"], "scale": {"domain": [0, 15], "nice": false}, "axis": {"values": [0, 5, 10, 15], "format": "d", "titleFontSize": 15}}}},
              {"data": {"name": "dots"}, "transform": [{"filter": "datum.panel === 'C3'"}], "mark": {"type": "circle", "size": 22, "color": "black", "opacity": 1},
               "encoding": {"xOffset": {"field": "jitter", "type": "quantitative", "scale": {"domain": [-1, 1]}}, "y": {"field": "value", "type": "quantitative", "title": ["meK132/total Tau", "[fold change]"], "scale": {"domain": [0, 15], "nice": false}, "axis": {"values": [0, 5, 10, 15], "format": "d", "titleFontSize": 15}}}},
              {"data": {"name": "sig"}, "transform": [{"filter": "datum.panel === 'C3'"}], "mark": {"type": "rule", "strokeWidth": 3, "color": "black"},
               "encoding": {"x": {"field": "from", "type": "nominal", "title": "weeks", "bandPosition": 0.5, "scale": {"domain": ["8", "16", "30"], "paddingInner": 0.33, "paddingOuter": 0.39}, "axis": {"bandPosition": 0.5, "labelPadding": 7, "titlePadding": 1}}, "x2": {"field": "to", "bandPosition": 0.5}, "y": {"field": "level", "type": "quantitative", "title": ["meK132/total Tau", "[fold change]"], "scale": {"domain": [0, 15], "nice": false}, "axis": {"values": [0, 5, 10, 15], "format": "d", "titleFontSize": 15}}}},
              {"data": {"name": "sig"}, "transform": [{"filter": "datum.panel === 'C3' && datum.span === 2"}], "mark": {"type": "text", "baseline": "alphabetic", "fontSize": 17, "dy": -1, "color": "black"},
               "encoding": {"x": {"field": "mid", "type": "nominal", "title": "weeks", "scale": {"domain": ["8", "16", "30"], "paddingInner": 0.33, "paddingOuter": 0.39}, "axis": {"bandPosition": 0.5, "labelPadding": 7, "titlePadding": 1}}, "y": {"field": "level", "type": "quantitative", "title": ["meK132/total Tau", "[fold change]"], "scale": {"domain": [0, 15], "nice": false}, "axis": {"values": [0, 5, 10, 15], "format": "d", "titleFontSize": 15}}, "text": {"field": "label"}}},
              {"data": {"name": "sig"}, "transform": [{"filter": "datum.panel === 'C3' && datum.span === 1"}], "mark": {"type": "text", "baseline": "alphabetic", "fontSize": 17, "dy": -1, "color": "black"},
               "encoding": {"x": {"field": "to", "type": "nominal", "title": "weeks", "bandPosition": -0.246, "scale": {"domain": ["8", "16", "30"], "paddingInner": 0.33, "paddingOuter": 0.39}, "axis": {"bandPosition": 0.5, "labelPadding": 7, "titlePadding": 1}}, "y": {"field": "level", "type": "quantitative", "title": ["meK132/total Tau", "[fold change]"], "scale": {"domain": [0, 15], "nice": false}, "axis": {"values": [0, 5, 10, 15], "format": "d", "titleFontSize": 15}}, "text": {"field": "label"}}}
             ]}
          ],
          "spacing": 96,
          "bounds": "flush"
        }
      ]
    }
  ]
}
